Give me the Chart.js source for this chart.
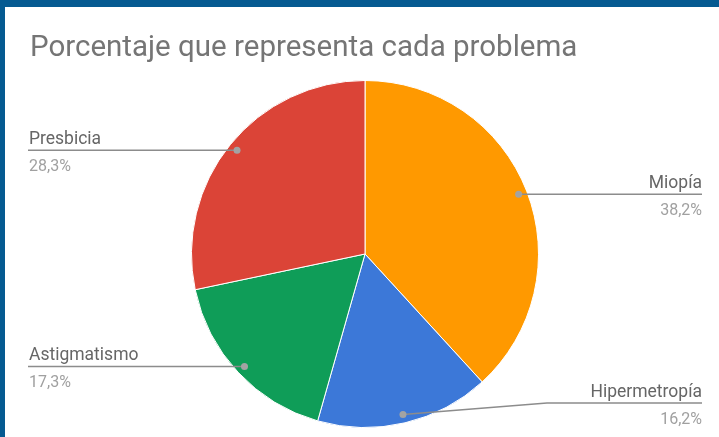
<!DOCTYPE html>
<html>
<head>
<meta charset="utf-8">
<script src="https://cdn.jsdelivr.net/npm/chart.js@4"></script>
<style>
  html, body { margin: 0; padding: 0; }
  body { width: 719px; height: 437px; background: #055a91; position: relative; overflow: hidden; }
  #wrap { position: absolute; left: 5px; top: 7px; width: 714px; height: 430px; background: #ffffff; }
</style>
</head>
<body>
<div id="wrap"><canvas id="problemPieChart" width="714" height="430"></canvas></div>
<script>
const categories = ['Miopía', 'Hipermetropía', 'Astigmatismo', 'Presbicia'];
const percentages = [38.2, 16.2, 17.3, 28.3];
const sliceColors = ['#ff9900', '#3c78d8', '#0f9d58', '#db4437'];
const titleText = 'Porcentaje que representa cada problema';

const fontFamily = 'Roboto, "Noto Sans", sans-serif';

// leader lines + labels, google-sheets style
const sideLabels = {
    id: 'sideLabels',
    afterDatasetsDraw(chart) {
        const ctx = chart.ctx;
        const meta = chart.getDatasetMeta(0);
        const leftX = 23, rightX = 697;
        const maxLineY = chart.height - 34;
        ctx.save();
        meta.data.forEach((arc, i) => {
            const p = arc.getProps(['x', 'y', 'startAngle', 'endAngle', 'outerRadius'], true);
            const mid = (p.startAngle + p.endAngle) / 2;
            const dx = p.x + Math.cos(mid) * p.outerRadius * 0.95;
            const dy = p.y + Math.sin(mid) * p.outerRadius * 0.95;
            const right = Math.cos(mid) > 0;
            const lineY = Math.min(dy, maxLineY);

            ctx.strokeStyle = '#8c8c8c';
            ctx.lineWidth = 1.5;
            ctx.beginPath();
            if (right) {
                ctx.moveTo(dx, dy);
                if (lineY !== dy) ctx.lineTo(rightX - 155, lineY);
                ctx.lineTo(rightX, lineY);
            } else {
                ctx.moveTo(dx, dy);
                if (lineY !== dy) ctx.lineTo(leftX + 155, lineY);
                ctx.lineTo(leftX, lineY);
            }
            ctx.stroke();

            ctx.fillStyle = '#a3a3a3';
            ctx.beginPath();
            ctx.arc(dx, dy, 3.5, 0, Math.PI * 2);
            ctx.fill();

            ctx.textAlign = right ? 'right' : 'left';
            ctx.textBaseline = 'alphabetic';
            const tx = right ? rightX : leftX + 1;
            ctx.font = '17.5px ' + fontFamily;
            ctx.fillStyle = '#666666';
            ctx.fillText(categories[i], tx, lineY - 6.5);
            ctx.font = '16px ' + fontFamily;
            ctx.fillStyle = '#a0a0a0';
            ctx.fillText(percentages[i].toFixed(1).replace('.', ',') + '%', tx, lineY + 20.5);
        });
        ctx.restore();
    }
};

const ctx = document.getElementById('problemPieChart').getContext('2d');
const problemPieChart = new Chart(ctx, {
    type: 'pie',
    data: {
        labels: categories,
        datasets: [{
            data: percentages,
            backgroundColor: sliceColors,
            borderColor: '#ffffff',
            borderWidth: 1,
            hoverOffset: 0
        }]
    },
    options: {
        responsive: false,
        animation: false,
        layout: { padding: { left: 25, right: 19, top: 0, bottom: 9 } },
        plugins: {
            legend: { display: false },
            tooltip: { enabled: false },
            title: {
                display: true,
                text: titleText,
                align: 'start',
                color: '#757575',
                font: { family: fontFamily, size: 29.5, weight: 'normal', lineHeight: 1.2 },
                padding: { top: 23.5, bottom: 14.1 }
            }
        }
    },
    plugins: [sideLabels]
});
</script>
</body>
</html>
